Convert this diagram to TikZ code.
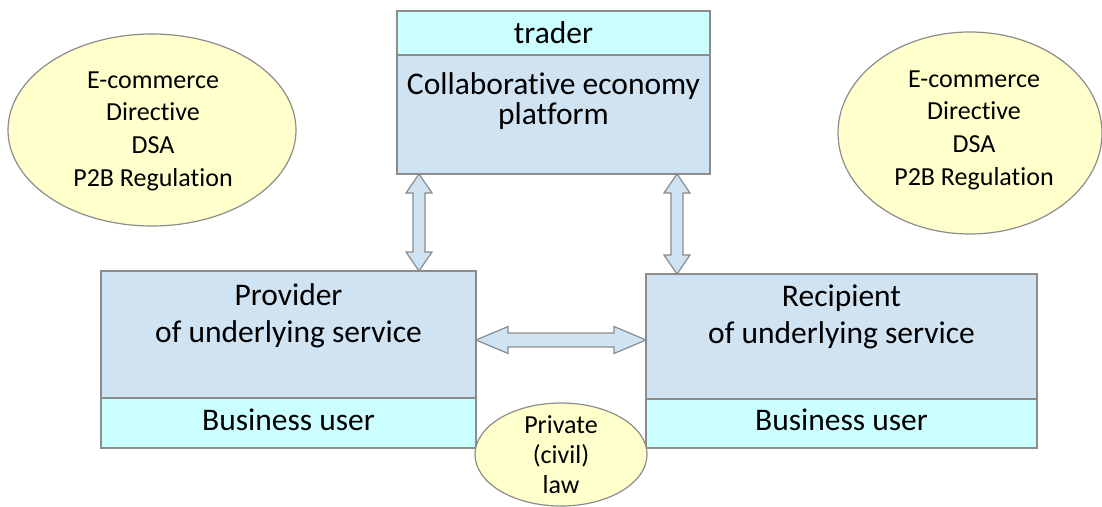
\documentclass[tikz,border=0pt]{standalone}
\usepackage{fontspec}
\setmainfont{Carlito}[Ligatures=CommonOff]
\usetikzlibrary{calc,shapes.geometric}
\definecolor{boxblue}{RGB}{207,227,243}
\definecolor{bandcyan}{RGB}{204,255,255}
\definecolor{ellyellow}{RGB}{255,255,204}
\definecolor{edgegray}{RGB}{140,140,140}
\newcommand{\dblarrowV}[2]{\draw[barrow] let \p1=(#1),\p2=(#2) in
  (\x1,\y1) -- (\x1+13pt,\y1-19pt) -- (\x1+6pt,\y1-19pt) -- (\x2+6pt,\y2+19pt) -- (\x2+13pt,\y2+19pt)
  -- (\x2,\y2) -- (\x2-13pt,\y2+19pt) -- (\x2-6pt,\y2+19pt) -- (\x1-6pt,\y1-19pt) -- (\x1-13pt,\y1-19pt) -- cycle;}
\newcommand{\dblarrowH}[2]{\draw[barrow] let \p1=(#1),\p2=(#2) in
  (\x1,\y1) -- (\x1+32pt,\y1+13.5pt) -- (\x1+32pt,\y1+7pt) -- (\x2-32pt,\y2+7pt) -- (\x2-32pt,\y2+13.5pt)
  -- (\x2,\y2) -- (\x2-32pt,\y2-13.5pt) -- (\x2-32pt,\y2-7pt) -- (\x1+32pt,\y1-7pt) -- (\x1+32pt,\y1-13.5pt) -- cycle;}
\tikzset{
  box/.style={draw=edgegray, line width=1.2pt, fill=boxblue, rectangle, inner sep=0pt},
  band/.style={draw=edgegray, line width=1.2pt, fill=bandcyan, rectangle, inner sep=0pt},
  ell/.style={draw=edgegray, line width=1.2pt, fill=ellyellow, ellipse, inner sep=0pt},
  barrow/.style={draw=edgegray, line width=1.2pt, fill=boxblue, line join=miter},
  bigtxt/.style={anchor=base, inner sep=0pt, font=\fontsize{31.5}{36}\selectfont},
  smalltxt/.style={anchor=base, inner sep=0pt, font=\fontsize{26}{31}\selectfont},
}
\begin{document}
\begin{tikzpicture}[x=1pt,y=-1pt]
\useasboundingbox (0,0) rectangle (1102,506);
% top platform box
\node[band, minimum width=313pt, minimum height=44pt] (trader) at (553.5,33) {};
\node[box, minimum width=313pt, minimum height=119pt] (plat) at (553.5,114.5) {};
\node[bigtxt] (traderT) at (553.5,43) {trader};
\node[bigtxt] (platT1) at (553.5,94) {Collaborative economy};
\node[bigtxt] (platT2) at (553.5,124) {platform};
% provider box
\node[box, minimum width=375pt, minimum height=127pt] (prov) at (288.5,334.5) {};
\node[band, minimum width=375pt, minimum height=50pt] (provband) at (288.5,423) {};
\node[bigtxt] (provT1) at (288.5,305) {Provider};
\node[bigtxt] (provT2) at (288.5,342) {of underlying service};
\node[bigtxt] (provT3) at (288.5,430) {Business user};
% recipient box
\node[box, minimum width=391pt, minimum height=125pt] (reci) at (841.5,336.5) {};
\node[band, minimum width=391pt, minimum height=49pt] (reciband) at (841.5,423.5) {};
\node[bigtxt] (reciT1) at (841.5,306) {Recipient};
\node[bigtxt] (reciT2) at (841.5,343) {of underlying service};
\node[bigtxt] (reciT3) at (841.5,430) {Business user};
% arrows
\coordinate (va1) at (419,174);
\coordinate (va2) at (419,271);
\coordinate (vb1) at (677,174);
\coordinate (vb2) at (677,274);
\coordinate (ha1) at (476,340);
\coordinate (ha2) at (646,340);
\dblarrowV{va1}{va2}
\dblarrowV{vb1}{vb2}
\dblarrowH{ha1}{ha2}
% ellipses
\node[ell, minimum width=288pt, minimum height=192pt] (lell) at (152,130) {};
\node[smalltxt] (lellT1) at (153,88) {E-commerce};
\node[smalltxt] (lellT2) at (153,120) {Directive};
\node[smalltxt] (lellT3) at (153,153) {DSA};
\node[smalltxt] (lellT4) at (153,186) {P2B Regulation};
\node[ell, minimum width=264pt, minimum height=202pt] (rell) at (970,133) {};
\node[smalltxt] (rellT1) at (974,87) {E-commerce};
\node[smalltxt] (rellT2) at (974,119) {Directive};
\node[smalltxt] (rellT3) at (974,152) {DSA};
\node[smalltxt] (rellT4) at (974,185) {P2B Regulation};
\node[ell, minimum width=172pt, minimum height=103pt] (bell) at (561,454.5) {};
\node[smalltxt] (bellT1) at (561,433) {Private};
\node[smalltxt] (bellT2) at (561,463) {(civil)};
\node[smalltxt] (bellT3) at (561,493) {law};
\end{tikzpicture}
\end{document}
